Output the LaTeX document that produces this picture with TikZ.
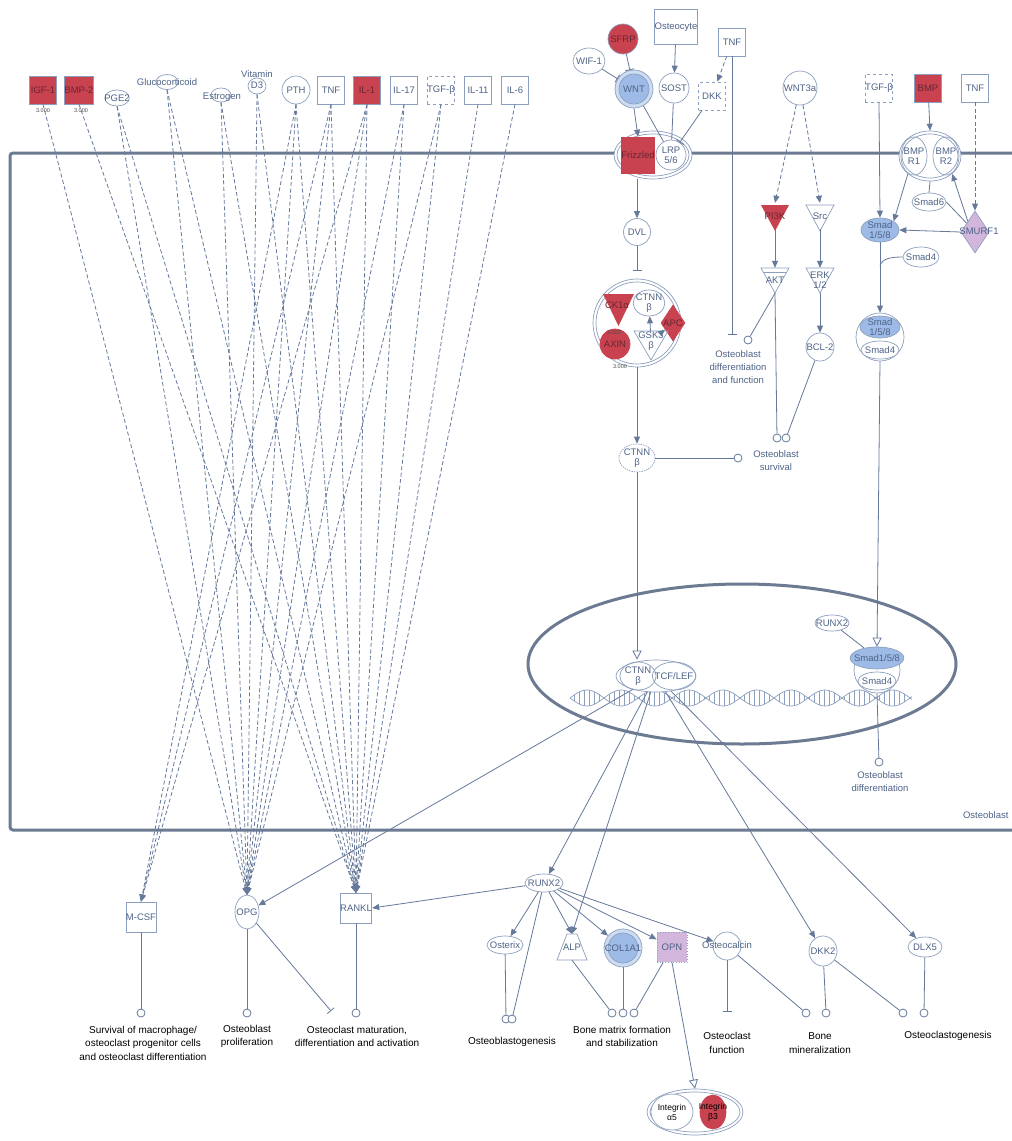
\documentclass[tikz,border=0pt]{standalone}
\usepackage{fontspec}
\setmainfont{Liberation Sans}
\usetikzlibrary{shapes.geometric,arrows.meta,calc}
\definecolor{redn}{HTML}{C8424F}
\definecolor{redt}{HTML}{6A2634}
\definecolor{bluen}{HTML}{9DBBE6}
\definecolor{bluer}{HTML}{CCDCF2}
\definecolor{purn}{HTML}{D2B6DB}
\definecolor{edgec}{HTML}{66799A}
\definecolor{nodec}{HTML}{8C9FBE}
\definecolor{txtc}{HTML}{4F6387}
\definecolor{membc}{HTML}{6C7A92}
\newcommand\fsn{\fontsize{9.5}{10}\selectfont}
\newcommand\fsf{\fontsize{9.5}{13}\selectfont}
\newcommand\fsb{\fontsize{10}{13.5}\selectfont}
\newcommand\fst{\fontsize{5.5}{6}\selectfont}
\newcommand\fsi{\fontsize{8.5}{10}\selectfont}
\tikzset{
  nd/.style={draw=nodec, line width=0.7pt, fill=white, font=\fsn, text=txtc, inner sep=0pt, align=center},
  bx/.style={nd, rectangle, minimum width=27pt, minimum height=28pt},
  cr/.style={nd, circle, inner sep=-4pt, minimum size=#1},
  el/.style 2 args={nd, ellipse, inner xsep=-4pt, inner ysep=-2pt, minimum width=#1, minimum height=#2},
  rd/.style={fill=redn, text=redt},
  ghost/.style={inner sep=0pt, font=\fsn, text=txtc, align=center},
  ed/.style={draw=edgec, line width=0.8pt},
  act/.style={ed, -{Triangle[length=7pt,width=6pt]}},
  dact/.style={act, dash pattern=on 4pt off 2.5pt},
  inh/.style={ed, -{Bar[width=9pt]}},
  oact/.style={ed, -{Triangle[open,length=9pt,width=9pt]}},
  fc/.style={draw=edgec, circle, minimum size=8pt, inner sep=0pt, line width=0.8pt, fill=white},
  flbl/.style={font=\fsf, text=txtc, align=center},
  blbl/.style={font=\fsb, text=black, align=center},
  tiny/.style={font=\fst, text=black!70, inner sep=0pt},
  intl/.style={font=\fsi, text=black},
}
\begin{document}
\begin{tikzpicture}[x=1pt,y=-1pt]
\useasboundingbox (0,0) rectangle (1012,1141);
\fill[white] (0,0) rectangle (1012,1141);
% ---------- membrane ----------
\draw[membc, line width=3pt, rounded corners=3pt] (1016,153) -- (10,153) -- (10,830) -- (1016,830);
\node[flbl, anchor=east] (memlbl) at (1012,815) {Osteoblast};
% ---------- nucleus ----------
\node[draw=membc, line width=3pt, ellipse, minimum width=428, minimum height=160] (nuc) at (742,664) {};
\draw[nodec, line width=0.7pt] plot[domain=0:342, samples=170] ({570+\x}, {698+8*sin(\x*5.2941)});
\draw[nodec, line width=0.7pt] plot[domain=0:342, samples=170] ({570+\x}, {698-8*sin(\x*5.2941)});
\foreach \xx in {4,9,...,340}
  \draw[nodec, line width=0.4pt] ({570+\xx}, {698+8*sin(\xx*5.2941)}) -- ({570+\xx}, {698-8*sin(\xx*5.2941)});

% ---------- top-left row ----------
\node[bx, rd] (igf) at (43,90) {IGF-1};
\node[tiny] (igfv) at (43,111) {3.000};
\node[bx, rd] (bmp2) at (79,90) {BMP-2};
\node[tiny] (bmp2v) at (81,111) {3.000};
\node[el={24}{16}] (pge2) at (117,98) {PGE2};
\node[el={22}{15}] (gluco) at (167,82) {};
\node[ghost] (glucot) at (167,82) {Glucocorticoid};
\node[el={20}{14}] (estr) at (221,95) {};
\node[ghost] (estrt) at (222,97) {Estrogen};
\node[el={18}{16}] (vitd) at (257,86) {};
\node[ghost] (vitdt) at (257,80) {Vitamin\\[1pt]D3};
\node[cr=28] (pth) at (296,90) {PTH};
\node[bx] (tnf1) at (331,90) {TNF};
\node[bx, rd] (il1) at (367,90) {IL-1};
\node[bx] (il17) at (404,90) {IL-17};
\node[bx, dashed] (tgf1) at (441,90) {TGF-β};
\node[bx] (il11) at (478,90) {IL-11};
\node[bx] (il6) at (515,90) {IL-6};

% ---------- bottom targets ----------
\node[bx, minimum width=30, minimum height=30] (mcsf) at (141,917) {M-CSF};
\node[el={24}{34}] (opg) at (247,912) {OPG};
\node[bx, minimum width=30, minimum height=30] (rankl) at (356,908) {RANKL};

\foreach \s/\t in {igf/opg, bmp2/rankl, pge2/opg, pge2/rankl, gluco/opg, gluco/rankl,
  estr/opg, estr/rankl, vitd/opg, vitd/rankl, pth/mcsf, pth/opg, pth/rankl,
  tnf1/mcsf, tnf1/opg, tnf1/rankl, il1/mcsf, il1/opg, il1/rankl,
  il17/opg, il17/rankl, tgf1/opg, tgf1/rankl, il11/rankl, il6/rankl}
  \draw[dact] (\s.south) -- (\t.north);

% ---------- WNT pathway ----------
\node[bx, minimum width=42, minimum height=35] (ocy) at (676,27) {Osteocyte};
\node[cr=30, rd] (sfrp) at (623,39) {SFRP};
\node[el={32}{26}] (wif) at (589,61) {WIF-1};
\node[bx] (tnf2) at (732,42) {TNF};
\node[nd, circle, minimum size=38, fill=bluer] (wnt) at (634,89) {};
\node[nd, circle, inner sep=-4pt, minimum size=30, fill=bluen] (wnti) at (634,89) {WNT};
\node[cr=30] (sost) at (674,88) {SOST};
\node[bx, dashed] (dkk) at (712,96) {DKK};
\node[nd, ellipse, minimum width=78, minimum height=48] (fzc) at (653,155) {};
\node[nd, ellipse, minimum width=72, minimum height=42, fill=none] (fzci) at (653,155) {};
\node[nd, rectangle, rd, draw=redn, minimum width=22, minimum height=36] (fz) at (638,155) {Frizzled};
\node[nd, circle, inner sep=-4pt, minimum size=30, fill=none] (lrp) at (671,155) {LRP\\5/6};

\draw[act] (ocy) -- (sost);
\draw[dact] (tnf2) -- (dkk);
\draw[inh] (sfrp) -- (wnt);
\draw[inh] (wif) -- (wnt);
\draw[act] (wnt.south) -- (fz.north);
\draw[ed] (wnt) -- (lrp);
\draw[ed] (sost) -- (lrp);
\draw[inh] (dkk) -- (lrp);
\coordinate (tnfend) at (732,335);
\draw[inh] (tnf2.south) -- (tnfend);

\node[cr=27] (dvl) at (637,232) {DVL};
\draw[act] (dvl |- fzc.south) -- (dvl.north);
\coordinate (dvlend) at (637,271);
\draw[inh] (dvl) -- (dvlend);

% destruction complex
\node[nd, circle, minimum size=88] (dc) at (637,323) {};
\node[nd, circle, minimum size=82, fill=none] (dci) at (637,323) {};
\fill[redn] (603,294) -- (634,294) -- (618.5,326) -- cycle;
\node[ghost, text=redt] (ck1) at (617,305) {CK1α};
\node[nd, ellipse, inner sep=-2pt, minimum width=30, minimum height=26, fill=none] (ctin) at (649,303) {CTNN\\β};
\node[nd, diamond, rd, draw=redn, inner sep=-3pt, minimum width=24, minimum height=36] (apc) at (673,323) {APC};
\node[cr=30, rd, draw=redn] (axin) at (615,344) {AXIN};
\node[tiny] (axinv) at (614,333) {3.000};
\draw[nodec, line width=0.7pt] (634,331) -- (668,331) -- (651,360) -- cycle;
\node[ghost] (gsk) at (651,341) {GSK3\\β};
\draw[act] (gsk) -- (ctin);
\draw[act] (gsk) -- (apc);
\node[tiny] (dcv) at (620,367) {3.000};

\node[el={36}{28}, dash pattern=on 1.5pt off 1pt] (ctn) at (637,458) {CTNN\\β};
\draw[act] (dc.south) -- (ctn.north);
\node[fc] (fsurv1) at (738,458) {};
\draw[ed] (ctn) -- (fsurv1);

% WNT3a branch
\node[cr=34] (wnt3a) at (800,88) {WNT3a};
\fill[redn] (761,205) -- (789,205) -- (775,231) -- cycle;
\node[ghost, text=redt, minimum width=28, minimum height=26] (pi3k) at (775,216) {PI3K};
\draw[nodec, line width=0.7pt, fill=white] (806,205) -- (834,205) -- (820,231) -- cycle;
\node[ghost, minimum width=28, minimum height=26] (src) at (820,216) {Src};
\draw[nodec, line width=0.7pt, fill=white] (761,268) -- (789,268) -- (775,293) -- cycle;
\draw[nodec, line width=0.6pt] (763,272) -- (787,272);
\node[ghost, minimum width=28, minimum height=25] (akt) at (775,280.5) {AKT};
\draw[nodec, line width=0.7pt, fill=white] (806,268) -- (834,268) -- (820,293) -- cycle;
\node[ghost, minimum width=28, minimum height=25] (erk) at (820,280.5) {ERK\\1/2};
\node[cr=28] (bcl) at (820,347) {BCL-2};
\draw[dact] (wnt3a) -- (pi3k.north);
\draw[dact] (wnt3a) -- (src.north);
\draw[act] (pi3k.south) -- (akt.north);
\draw[act] (src.south) -- (erk.north);
\draw[act] (erk.south) -- (bcl.north);
\node[fc] (fdiff) at (748,340) {};
\node[fc] (fsurv2a) at (777,438) {};
\node[fc] (fsurv2b) at (786,438) {};
\draw[ed] (akt.south) -- (fdiff);
\draw[ed] (akt.south) -- (fsurv2a);
\draw[ed] (bcl) -- (fsurv2b);
\node[flbl] (ldiff) at (738,367) {Osteoblast\\differentiation\\and function};
\node[flbl] (lsurv) at (776,461) {Osteoblast\\survival};

% ---------- BMP / TGF pathway ----------
\node[bx, dashed] (tgf2) at (879,88) {TGF-β};
\node[bx, rd] (bmp) at (928,88) {BMP};
\node[bx] (tnf3) at (975,88) {TNF};
\node[nd, ellipse, minimum width=62, minimum height=50] (bmpc) at (930,156) {};
\node[nd, ellipse, minimum width=56, minimum height=44, fill=none] (bmpci) at (930,156) {};
\node[nd, ellipse, inner sep=-3pt, minimum width=26, minimum height=38, fill=none] (bmpr1) at (914,156) {BMP\\R1};
\node[nd, ellipse, inner sep=-3pt, minimum width=26, minimum height=38, fill=none] (bmpr2) at (946,156) {BMP\\R2};
\node[el={34}{18}] (smad6) at (929,202) {Smad6};
\node[nd, diamond, fill=purn, minimum width=28, minimum height=42] (smurf) at (975,232) {};
\node[ghost] (smurft) at (979,231) {SMURF1};
\node[el={38}{24}, fill=bluen] (smad158) at (880,230) {Smad\\1/5/8};
\node[el={36}{20}] (smad4a) at (921,257) {Smad4};
\node[nd, circle, minimum size=48] (smc) at (880,337) {};
\node[el={40}{22}, fill=bluen] (smcb) at (880,327) {Smad\\1/5/8};
\node[el={38}{18}] (smcd) at (880,350) {Smad4};

\draw[act] (bmp) -- (bmpc.north);
\draw[act] (tgf2.south) -- (smad158.north);
\draw[dact] (tnf3.south) -- (smurf.north);
\draw[ed] (bmpc.south) -- (smad6.north);
\draw[act] (bmpc.south west) -- (smad158.north east);
\draw[act] (smurf.west) -- (smad158.east);
\draw[act] (smurf.north west) -- (bmpc.south east);
\draw[ed] (smurf) -- (smad6.east);
\coordinate (j4) at (880,266);
\draw[ed] (smad4a.west) .. controls (892,257) and (882,258) .. (j4);
\draw[act] (smad158.south) -- (smc.north);

% ---------- nucleus content ----------
\node[nd, ellipse, minimum width=80, minimum height=32] (ctnnc) at (656,676) {};
\node[el={36}{28}, fill=none] (ctnn) at (638,676) {CTNN\\β};
\node[el={42}{28}, fill=none] (tcf) at (674,676) {TCF/LEF};
\draw[oact] (ctn.south) -- (ctn.south |- ctnnc.north);

\node[el={34}{16}] (runxn) at (832,623) {RUNX2};
\node[nd, circle, minimum size=46] (nsm) at (877,670) {};
\node[el={48}{22}, fill=bluen] (nsmb) at (877,658) {Smad1/5/8};
\node[el={38}{18}] (nsmd) at (877,681) {Smad4};
\draw[ed] (runxn) -- (nsmb);
\draw[oact] (smc.south) -- (nsm.north);
\node[fc] (fobd) at (879,762) {};
\draw[ed] (nsm.south) -- (fobd);
\node[flbl] (lobd) at (880,782) {Osteoblast\\differentiation};

% ---------- bottom genes ----------
\node[el={38}{18}] (runx) at (544,883) {RUNX2};
\node[el={36}{18}] (osx) at (505,945) {Osterix};
\draw[nodec, line width=0.7pt, fill=white] (567,934) -- (577,934) -- (587,960) -- (557,960) -- cycle;
\node[ghost, minimum width=30, minimum height=26] (alp) at (572,947) {ALP};
\node[nd, circle, minimum size=38, fill=bluer] (col) at (623,948) {};
\node[nd, circle, inner sep=-8pt, minimum size=30, fill=bluen] (coli) at (623,948) {COL1A1};
\node[bx, fill=purn, dotted, minimum width=30, minimum height=30] (opn) at (672,947) {OPN};
\node[cr=28] (ocn) at (727,946) {};
\node[ghost] (ocnt) at (727,945) {Osteocalcin};
\node[el={28}{30}] (dkk2) at (823,951) {DKK2};
\node[el={34}{20}] (dlx5) at (925,947) {DLX5};

\draw[act] (ctnnc) -- (opg);
\draw[act] (ctnnc) -- (runx);
\draw[act] (ctnnc) -- (alp.north);
\draw[act] (ctnnc) -- (dkk2);
\draw[act] (ctnnc) -- (dlx5);

\draw[act] (runx) -- (rankl.east);
\draw[act] (runx) -- (osx);
\draw[act] (runx) -- (alp.north);
\draw[act] (runx) -- (col);
\draw[act] (runx) -- (opn);
\draw[act] (runx) -- (ocn);

% functions
\node[fc] (fmcsf) at (141,1013) {};
\node[fc] (fopg) at (247,1013) {};
\coordinate (tbo) at (331,1011);
\node[fc] (frankl) at (356,1013) {};
\node[fc] (fosx) at (506,1019) {};
\node[fc] (fog2) at (512,1019) {};
\node[fc] (falp) at (612,1013) {};
\node[fc] (fcol) at (623,1013) {};
\node[fc] (fopn) at (634,1013) {};
\coordinate (tbc) at (727,1012);
\node[fc] (focn) at (806,1013) {};
\node[fc] (fdkka) at (826,1013) {};
\node[fc] (fdkkb) at (903,1013) {};
\node[fc] (fdlx) at (924,1013) {};

\draw[ed] (mcsf) -- (fmcsf);
\draw[ed] (opg) -- (fopg);
\draw[inh] (opg) -- (tbo);
\draw[ed] (rankl) -- (frankl);
\draw[ed] (osx) -- (fosx);
\draw[ed] (runx) -- (fog2);
\draw[ed] (alp.south) -- (falp);
\draw[ed] (col) -- (fcol);
\draw[ed] (opn) -- (fopn);
\draw[inh] (ocn.south) -- (tbc);
\draw[ed] (ocn) -- (focn);
\draw[ed] (dkk2) -- (fdkka);
\draw[ed] (dkk2) -- (fdkkb);
\draw[ed] (dlx5) -- (fdlx);

\node[blbl] (l1) at (143,1043) {Survival of macrophage/\\osteoclast progenitor cells\\and osteoclast differentiation};
\node[blbl] (l2) at (247,1036.5) {Osteoblast\\proliferation};
\node[blbl] (l3) at (357,1036.5) {Osteoclast maturation,\\differentiation and activation};
\node[blbl] (l4) at (512,1042) {Osteoblastogenesis};
\node[blbl] (l5) at (622,1036.5) {Bone matrix formation\\and stabilization};
\node[blbl] (l6) at (727,1043) {Osteoclast\\function};
\node[blbl] (l7) at (820,1043) {Bone\\mineralization};
\node[blbl] (l8) at (948,1036) {Osteoclastogenesis};

% integrin
\node[nd, ellipse, minimum width=96, minimum height=46] (intc) at (695,1112) {};
\node[nd, ellipse, minimum width=90, minimum height=40, fill=none] (intci) at (695,1112) {};
\node[nd, ellipse, inner sep=-4pt, minimum width=42, minimum height=36, fill=white, intl] (inta) at (672,1112) {Integrin\\α5};
\node[nd, ellipse, inner sep=-6pt, minimum width=26, minimum height=34, fill=redn, draw=redn, intl] (intb) at (713,1112) {Integrin\\β3};
\draw[oact] (opn.south) -- (intc.north);
\end{tikzpicture}
\end{document}
